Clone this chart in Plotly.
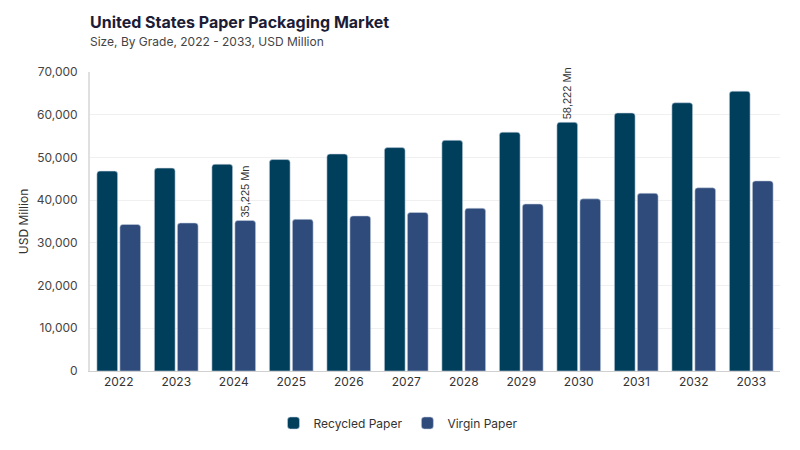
import plotly.graph_objects as go

years = ["2022", "2023", "2024", "2025", "2026", "2027",
         "2028", "2029", "2030", "2031", "2032", "2033"]
recycled = [46800, 47500, 48400, 49500, 50800, 52300,
            54000, 55900, 58222, 60400, 62800, 65500]
virgin = [34300, 34650, 35225, 35500, 36300, 37100,
          38100, 39100, 40300, 41600, 42900, 44500]

# only a couple of bars carry a value label
recycled_labels = ["", "", "", "", "", "", "", "", "58,222 Mn", "", "", ""]
virgin_labels = ["", "", "35,225 Mn", "", "", "", "", "", "", "", "", ""]

label_font = dict(family="Liberation Sans, Arial", size=11, color="#333333")

# the html page puts an 8px body margin round the figure, so offsets are shifted by 8
fig = go.Figure()
fig.add_trace(go.Bar(
    x=years, y=recycled, name="Recycled Paper",
    marker=dict(color="#003f5c", cornerradius=3,
                line=dict(color="rgba(200,210,225,0.7)", width=0.8)),
    text=recycled_labels, textposition="outside", textangle=-90,
    textfont=label_font, constraintext="none", cliponaxis=False,
))
fig.add_trace(go.Bar(
    x=years, y=virgin, name="Virgin Paper",
    marker=dict(color="#2f4b7c", cornerradius=3,
                line=dict(color="rgba(200,210,225,0.7)", width=0.8)),
    text=virgin_labels, textposition="outside", textangle=-90,
    textfont=label_font, constraintext="none", cliponaxis=False,
))

fig.update_layout(
    width=800, height=450,
    margin=dict(l=82, r=28, t=64, b=87),
    paper_bgcolor="white", plot_bgcolor="white",
    font=dict(family="Inter, Lato, sans-serif", size=12, color="#444444"),
    barmode="group", bargap=0.2, bargroupgap=0.1,
    title=dict(
        text="<b>United States Paper Packaging Market</b>",
        x=82 / 800, xref="container", xanchor="left",
        y=1 - 14 / 450, yref="container", yanchor="middle",
        font=dict(family="Inter, sans-serif", size=16, color="#1c1c36"),
    ),
    legend=dict(
        orientation="h", xref="container", yref="container",
        x=390 / 800, xanchor="center", y=1 - 415 / 450, yanchor="middle",
        font=dict(size=12, color="#333333"),
    ),
    showlegend=True,
)

fig.add_annotation(
    text="Size, By Grade, 2022 - 2033, USD Million",
    xref="paper", yref="paper", x=0, xanchor="left", xshift=-2,
    y=1, yshift=31, yanchor="middle", showarrow=False,
    font=dict(family="Inter, sans-serif", size=12, color="#444444"),
)

fig.update_xaxes(
    showgrid=False, showline=True, linecolor="#d0d0d0", linewidth=1,
    ticks="", tickfont=dict(size=12, color="#333333"),
)
fig.update_yaxes(
    range=[0, 70000], dtick=10000, tickformat=",",
    showgrid=True, gridcolor="#f0f0f0", gridwidth=1,
    showline=True, linecolor="#e0e0e0", linewidth=2,
    zeroline=False, ticks="", ticklabelstandoff=8,
    tickfont=dict(size=12, color="#444444"),
    title=dict(text="USD Million", font=dict(size=12, color="#333333"), standoff=6),
)

fig.write_html("out.html")
